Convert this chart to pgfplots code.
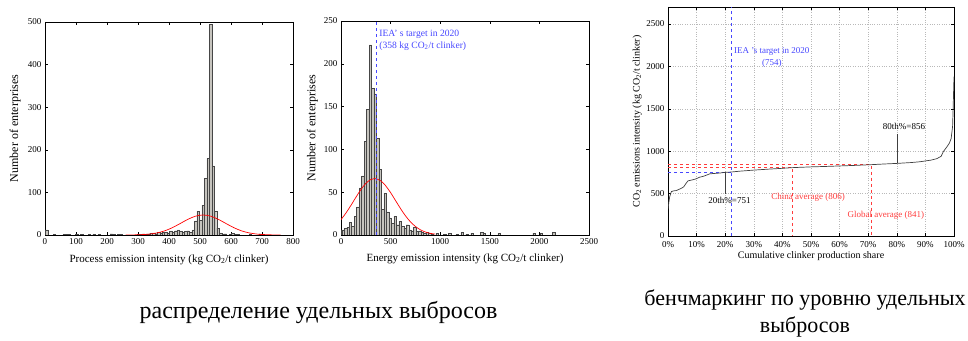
\documentclass[border=0pt]{standalone}
\usepackage{pgfplots}
\pgfplotsset{compat=1.18}
\usepackage{fontspec}
\setmainfont{Liberation Serif}
\definecolor{barfill}{RGB}{198,196,190}
\definecolor{baredge}{RGB}{70,70,70}
\definecolor{ieablue}{RGB}{70,70,255}
\definecolor{annred}{RGB}{255,60,60}
\pgfplotsset{
  myax/.style={scale only axis,
    axis line style={line width=0.6pt}, tick style={black, line width=0.5pt},
    major tick length=3pt, tick align=inside,
    font=\fontsize{9}{10}\selectfont,
    /pgf/number format/assume math mode=true,
    /pgf/number format/1000 sep={}, scaled ticks=false},
  hist/.style={ybar, bar shift=0pt, fill=barfill, draw=baredge, line width=0.4pt},
}
\begin{document}
\begin{tikzpicture}
\useasboundingbox (0pt,0pt) rectangle (968pt,340pt);
% ---------- Left: process emission intensity ----------
\begin{axis}[myax, anchor=south west, at={(45pt,105pt)}, width=248pt, height=213pt,
  xmin=0, xmax=800, ymin=0, ymax=500,
  xtick={0,100,...,800}, ytick={0,100,...,500},
  xlabel={Process emission intensity (kg CO\textsubscript{2}/t clinker)},
  ylabel={Number of enterprises},
  xlabel style={at={(axis description cs:0.5,-0.115)}, anchor=center, font=\fontsize{11}{12}\selectfont},
  ylabel style={at={(axis description cs:-0.12,0.5)}, anchor=center, font=\fontsize{12}{13}\selectfont}]
\addplot[hist, bar width=8] coordinates {
(6,12) (30,2) (62,2) (70,2) (78,1) (102,2) (118,1) (142,1) (158,2) (174,1)
(214,3) (222,2) (238,1) (246,1) (302,2) (310,1) (318,3) (326,2) (334,3)
(342,4) (350,5) (358,3) (366,6) (374,5) (382,7) (390,6) (398,5) (406,8)
(414,7) (422,10) (430,12) (438,9) (446,6) (454,8) (462,10) (470,7) (478,12)
(486,33) (494,56) (502,35) (510,70) (518,133) (526,180) (534,495) (542,162)
(550,56) (558,16) (566,5) (574,2) (582,3) (598,2) (606,4) (614,2) (622,1)
(662,1) (694,3) (702,2)};
\addplot[red, line width=0.7pt, smooth] coordinates {
(260,0.08) (285,0.27) (310,0.79) (335,2.06) (360,4.7) (385,9.5) (410,16.9)
(435,26.5) (460,36.4) (485,44.1) (510,47) (535,44.1) (560,36.4) (585,26.5)
(610,16.9) (635,9.5) (660,4.7) (685,2.06) (710,0.79) (735,0.27) (760,0.08)};
\end{axis}
% ---------- Middle: energy emission intensity ----------
\begin{axis}[myax, anchor=south west, at={(341pt,105pt)}, width=248pt, height=214pt,
  xmin=0, xmax=2500, ymin=0, ymax=250,
  xtick={0,500,...,2500}, ytick={0,50,...,250},
  xlabel={Energy emission intensity (kg CO\textsubscript{2}/t clinker)},
  ylabel={Number of enterprises},
  xlabel style={at={(axis description cs:0.5,-0.11)}, anchor=center, font=\fontsize{11}{12}\selectfont},
  ylabel style={at={(axis description cs:-0.115,0.5)}, anchor=center, font=\fontsize{12}{13}\selectfont}]
\addplot[hist, bar width=25] coordinates {
(20,6) (45,8) (70,9) (95,15) (120,10) (145,22) (170,33) (195,55) (220,69)
(245,109) (270,147) (295,222) (320,171) (345,165) (370,113) (395,77) (420,30)
(445,49) (470,27) (495,20) (520,14) (545,22) (570,12) (595,16) (620,10)
(645,8) (670,12) (695,6) (720,5) (745,9) (770,4) (795,5) (820,3) (845,2)
(870,3) (895,2) (920,1) (970,2) (1045,1) (1095,2) (1170,1) (1220,3) (1270,1)
(1320,2) (1420,3) (1445,2) (1595,2) (1945,2) (2020,2) (2145,3)};
\addplot[red, line width=0.7pt, smooth] coordinates {
(0,18.0) (50,25.7) (100,34.6) (150,44.0) (200,53.0) (250,60.3) (300,64.8)
(340,66) (400,63.4) (450,57.6) (500,49.5) (550,40.2) (600,30.9) (650,22.4)
(700,15.4) (750,10.0) (800,6.1) (850,3.5) (900,1.95) (950,1.0)};
\addplot[ieablue, dashed, line width=0.7pt] coordinates {(358,0) (358,250)};
\node[ieablue, anchor=north west, align=left, inner sep=0pt, font=\fontsize{9.6}{12}\selectfont]
  at (axis cs:385,240) {IEA’ s target in 2020\\(358 kg CO\textsubscript{2}/t clinker)};
\end{axis}
% ---------- Right: benchmarking curve ----------
\begin{axis}[myax, anchor=south west, at={(668pt,104pt)}, width=286pt, height=229pt,
  xmin=0, xmax=100, ymin=0, ymax=2700,
  xtick={0,10,...,100},
  xticklabels={0\%,10\%,20\%,30\%,40\%,50\%,60\%,70\%,80\%,90\%,100\%},
  xticklabel style={yshift=-1.5pt},
  ytick={0,500,...,2500},
  grid=major, grid style={dotted, gray!55, line width=0.4pt},
  xlabel={Cumulative clinker production share},
  ylabel={CO\textsubscript{2} emissions intensity (kg CO\textsubscript{2}/t clinker)},
  xlabel style={at={(axis description cs:0.5,-0.087)}, anchor=center, font=\fontsize{10}{11}\selectfont},
  ylabel style={at={(axis description cs:-0.108,0.5)}, anchor=center, font=\fontsize{10}{11}\selectfont}]
\addplot[ieablue, dashed, line width=0.6pt] coordinates {(0,754) (22,754)};
\addplot[ieablue, dashed, line width=0.6pt] coordinates {(22,0) (22,2700)};
\addplot[annred, dashed, line width=0.6pt] coordinates {(0,806) (43.5,806) (43.5,0)};
\addplot[annred, dashed, line width=0.6pt] coordinates {(0,841) (71,841) (71,0)};
\addplot[black!75, line width=0.6pt] coordinates {(20,751) (20,500)};
\addplot[black!75, line width=0.6pt] coordinates {(80,856) (80,1200)};
\addplot[black!75, line width=0.7pt] coordinates {
(0,315) (0.3,400) (0.6,465) (1.2,524) (2,532) (2.9,536) (4.7,563) (5.5,580)
(6.3,620) (7,650) (8.7,663) (10,676) (11,693) (12.5,705) (14.6,733) (16,737)
(18,742) (20,751) (22,754) (25,764) (30,777) (35,788) (40,798) (43.5,806)
(50,815) (55,820) (60,826) (65,832) (71,841) (75,848) (80,856) (85,866)
(88,875) (90,885) (92,895) (94,912) (95.5,940) (96.3,997) (97.5,1050)
(98.4,1096) (99,1150) (99.5,1290) (99.7,1500) (99.85,1700) (100,1880)};
\node[ieablue, align=center, font=\fontsize{9}{12}\selectfont] at (axis cs:36.3,2105) {IEA ’s target in 2020\\(754)};
\node[black, font=\fontsize{9}{10}\selectfont] at (axis cs:21.5,422) {20th\%=751};
\node[black, font=\fontsize{9}{10}\selectfont] at (axis cs:82.5,1290) {80th\%=856};
\node[annred, font=\fontsize{9}{10}\selectfont] at (axis cs:49,453) {China average (806)};
\node[annred, font=\fontsize{9}{10}\selectfont] at (axis cs:76.2,248) {Global average (841)};
\end{axis}
% ---------- Captions ----------
\node[font=\fontsize{24}{28}\selectfont] at (318.5pt,28pt) {распределение удельных выбросов};
\node[font=\fontsize{22}{27}\selectfont, align=center] at (805pt,27pt) {бенчмаркинг по уровню удельных\\выбросов};
\end{tikzpicture}
\end{document}
